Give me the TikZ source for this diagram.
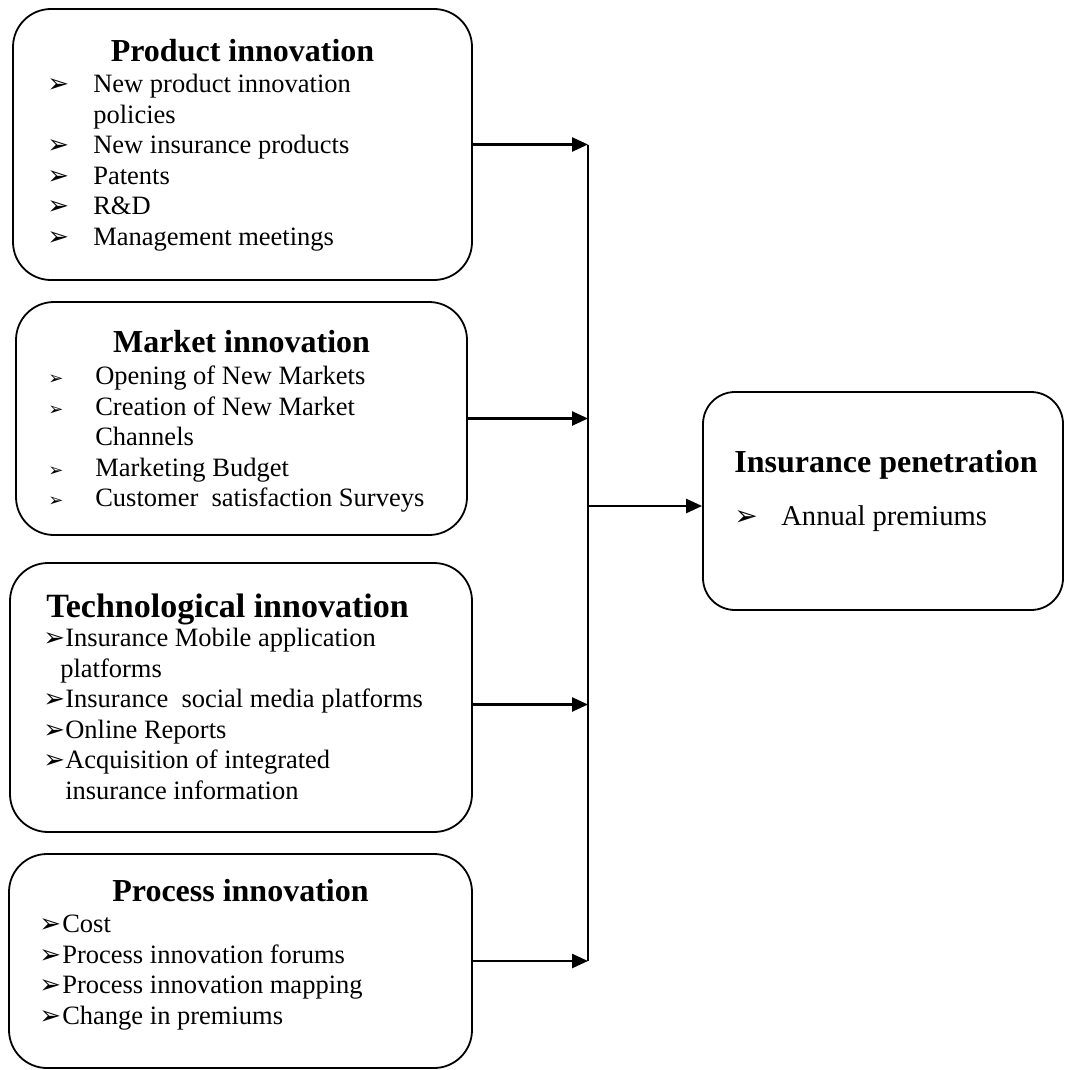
\documentclass[tikz,border=0pt]{standalone}
\usepackage{fontspec}
\setmainfont{Liberation Serif}
\newfontfamily\symf{DejaVu Sans}
\usetikzlibrary{arrows.meta,positioning}

\newcommand{\bul}[1][26]{{\symf\fontsize{#1}{#1}\selectfont ➢}}
\newcommand{\itm}[3][26]{\makebox[#2][l]{\bul[#1]}#3}

\begin{document}
\begin{tikzpicture}[x=1pt,y=-1pt]
        \tikzset{
            blk/.style={
                draw,
                line width=1.8pt,
                rounded corners=#1,
                inner sep=0pt
            },
            blk/.default=38pt,
            hd/.style={
                inner sep=0pt,
                anchor=base,
                font=\bfseries\fontsize{#1}{36}\selectfont
            },
            hd/.default=32,
            lst/.style={
                inner sep=0pt,
                anchor=north west,
                align=left,
                font=\fontsize{#1}{30.5}\selectfont
            },
            lst/.default=26.5,
            arr/.style={
                line width=2.5pt,
                -{Triangle[length=16pt,width=14pt]}
            }
        }
        \useasboundingbox (0,0) rectangle (1065,1070);

        %caixas
        \node[blk, minimum width=459pt, minimum height=271pt] (prod) at (242.5,144.5) {};
        \node[blk, minimum width=451pt, minimum height=233pt] (mark) at (241.5,418.5) {};
        \node[blk, minimum width=462pt, minimum height=269pt] (tech) at (241,697.5) {};
        \node[blk, minimum width=463pt, minimum height=214pt] (proc) at (240.5,961) {};
        \node[blk=32pt, minimum width=360pt, minimum height=218pt] (pen) at (883,501) {};

        \node[hd] (prodhd) at ([yshift=-53pt]prod.north) {Product innovation};
        \node[lst] (prodlst) at ([xshift=35pt,yshift=-66pt]prod.north west) {\itm{46pt}{New product innovation}\\
            \hspace*{46pt}policies\\
            \itm{46pt}{New insurance products}\\
            \itm{46pt}{Patents}\\
            \itm{46pt}{R\&D}\\
            \itm{46pt}{Management meetings}};

        \node[hd] (markhd) at ([yshift=-51pt]mark.north) {Market innovation};
        \node[lst] (marklst) at ([xshift=33pt,yshift=-65pt]mark.north west) {\itm[18]{47pt}{Opening of New Markets}\\
            \itm[18]{47pt}{Creation of New Market}\\
            \hspace*{47pt}Channels\\
            \itm[18]{47pt}{Marketing Budget}\\
            \itm[18]{47pt}{Customer\ \ satisfaction Surveys}};

        \node[hd=34] (techhd) at ([xshift=-13.5pt,yshift=-55pt]tech.north) {Technological innovation};
        \node[lst] (techlst) at ([xshift=34pt,yshift=-66pt]tech.north west) {\itm{22pt}{Insurance Mobile application}\\
            \hspace*{17pt}platforms\\
            \itm{22pt}{Insurance\ \ social media platforms}\\
            \itm{22pt}{Online Reports}\\
            \itm{22pt}{Acquisition of integrated}\\
            \hspace*{22pt}insurance information};

        \node[hd] (prochd) at ([yshift=-48pt]proc.north) {Process innovation};
        \node[lst] (proclst) at ([xshift=31pt,yshift=-62pt]proc.north west) {\itm{23pt}{Cost}\\
            \itm{23pt}{Process innovation forums}\\
            \itm{23pt}{Process innovation mapping}\\
            \itm{23pt}{Change in premiums}};

        \node[hd] (penhd) at ([xshift=3pt,yshift=-81pt]pen.north) {Insurance penetration};
        \node[lst=28.6] (penlst) at ([xshift=32pt,yshift=-114pt]pen.north west) {\itm[28]{47pt}{Annual premiums}};

        %setas
        \coordinate (bus) at (588,0);
        \draw[line width=2.5pt] (prod.east -| bus) -- (proc.east -| bus);

        \draw[arr] (prod.east) -- (prod.east -| bus);
        \draw[arr] (mark.east) -- (mark.east -| bus);
        \draw[arr] ([yshift=-7pt]tech.east) -- ([yshift=-7pt]tech.east -| bus);
        \draw[arr] (proc.east) -- (proc.east -| bus);
        \draw[arr] ([yshift=-5pt]pen.west -| bus) -- ([yshift=-5pt]pen.west);

    \end{tikzpicture}
\end{document}
